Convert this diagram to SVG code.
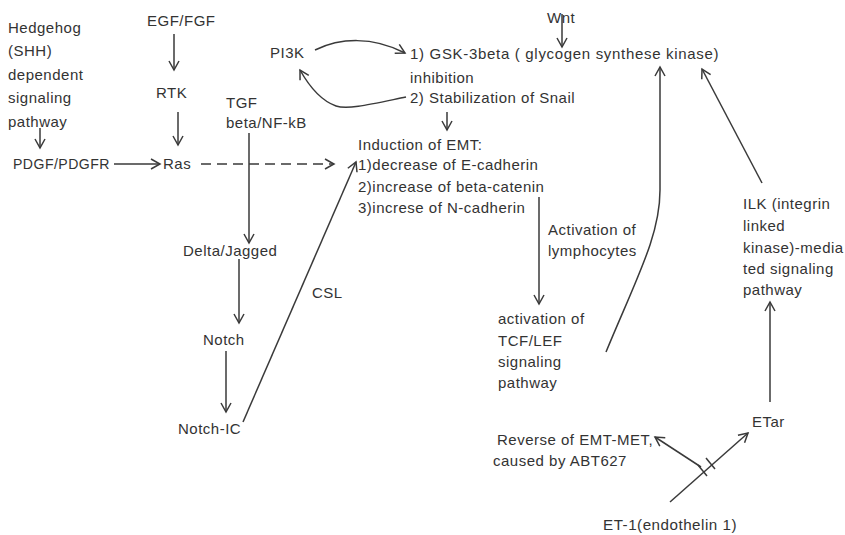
<svg xmlns="http://www.w3.org/2000/svg" width="845" height="535" viewBox="0 0 845 535">
  <defs>
    <marker id="arr" markerWidth="14" markerHeight="14" refX="10" refY="6" orient="auto" markerUnits="userSpaceOnUse">
      <path d="M1,1 L10,6 L1,11" fill="none" stroke="#3a3a3a" stroke-width="1.5" stroke-dasharray="none"/>
    </marker>
  </defs>
  <style>
    text { font-family: "Liberation Sans", Arial, sans-serif; font-size: 15px; letter-spacing: 0.5px; fill: #333; }
    .ln { fill: none; stroke: #3a3a3a; stroke-width: 1.5; }
    .ar { marker-end: url(#arr); }
  </style>
  <rect width="845" height="535" fill="#fff"/>

  <!-- connectors -->
  <g id="connectors">
    <line class="ln ar" x1="40" y1="128" x2="40" y2="148"/>
    <line class="ln ar" x1="114" y1="164" x2="160" y2="164"/>
    <line class="ln ar" x1="174" y1="34" x2="174" y2="70"/>
    <line class="ln ar" x1="178" y1="112" x2="178" y2="145"/>
    <line class="ln ar" x1="201" y1="164" x2="334" y2="164" stroke-dasharray="10,6"/>
    <line class="ln ar" x1="249" y1="133" x2="249" y2="243"/>
    <line class="ln ar" x1="239" y1="259" x2="239" y2="323"/>
    <line class="ln ar" x1="226" y1="351" x2="226" y2="412"/>
    <line class="ln ar" x1="243" y1="422" x2="356" y2="162"/>
    <path class="ln ar" d="M315,50 C340,38 372,36 405,53"/>
    <path class="ln ar" d="M406,97 C372,104 348,110 336,106 C322,101 309,86 300,70"/>
    <line class="ln ar" x1="562" y1="14" x2="562" y2="47"/>
    <line class="ln ar" x1="447" y1="112" x2="447" y2="130"/>
    <line class="ln ar" x1="539" y1="197" x2="539" y2="304"/>
    <path class="ln ar" d="M606,352 C638,275 660,235 660,190 L660,67"/>
    <line class="ln ar" x1="762" y1="183" x2="702" y2="69"/>
    <line class="ln ar" x1="770" y1="402" x2="770" y2="302"/>
    <line class="ln ar" x1="670" y1="502" x2="748" y2="433"/>
    <line class="ln ar" x1="701" y1="467" x2="655" y2="437"/>
    <line class="ln" x1="698" y1="465" x2="707" y2="476"/>
    <line class="ln" x1="706" y1="458" x2="715" y2="469"/>
  </g>

  <g id="hedgehog">
    <text x="8" y="33">Hedgehog</text>
    <text x="8" y="56">(SHH)</text>
    <text x="8" y="80">dependent</text>
    <text x="8" y="103">signaling</text>
    <text x="8" y="127">pathway</text>
  </g>
  <g id="pdgf"><text x="13" y="169" textLength="97" lengthAdjust="spacingAndGlyphs">PDGF/PDGFR</text></g>
  <g id="egf"><text x="147" y="26">EGF/FGF</text></g>
  <g id="rtk"><text x="156" y="98">RTK</text></g>
  <g id="ras"><text x="163" y="169">Ras</text></g>
  <g id="tgf">
    <text x="226" y="108">TGF</text>
    <text x="226" y="128">beta/NF-kB</text>
  </g>
  <g id="delta"><text x="183" y="256">Delta/Jagged</text></g>
  <g id="notch"><text x="203" y="345">Notch</text></g>
  <g id="notchic"><text x="178" y="434">Notch-IC</text></g>
  <g id="csl"><text x="312" y="298">CSL</text></g>
  <g id="pi3k"><text x="270" y="58">PI3K</text></g>
  <g id="wnt"><text x="547" y="23">Wnt</text></g>
  <g id="gsk">
    <text x="410" y="59" textLength="309" lengthAdjust="spacing">1) GSK-3beta ( glycogen synthese kinase)</text>
    <text x="410" y="83">inhibition</text>
    <text x="410" y="103">2) Stabilization of Snail</text>
  </g>
  <g id="emt">
    <text x="358" y="150">Induction of EMT:</text>
    <text x="358" y="170">1)decrease of E-cadherin</text>
    <text x="358" y="192">2)increase of beta-catenin</text>
    <text x="358" y="213">3)increse of N-cadherin</text>
  </g>
  <g id="lymph">
    <text x="548" y="235">Activation of</text>
    <text x="548" y="256">lymphocytes</text>
  </g>
  <g id="tcf">
    <text x="498" y="324">activation of</text>
    <text x="498" y="346">TCF/LEF</text>
    <text x="498" y="367">signaling</text>
    <text x="498" y="388">pathway</text>
  </g>
  <g id="ilk">
    <text x="743" y="209">ILK (integrin</text>
    <text x="743" y="231">linked</text>
    <text x="743" y="253">kinase)-media</text>
    <text x="743" y="274">ted signaling</text>
    <text x="743" y="295">pathway</text>
  </g>
  <g id="etar"><text x="752" y="427">ETar</text></g>
  <g id="reverse">
    <text x="497" y="445">Reverse of EMT-MET,</text>
    <text x="493" y="466">caused by ABT627</text>
  </g>
  <g id="et1"><text x="603" y="530" textLength="134" lengthAdjust="spacingAndGlyphs">ET-1(endothelin 1)</text></g>
</svg>
